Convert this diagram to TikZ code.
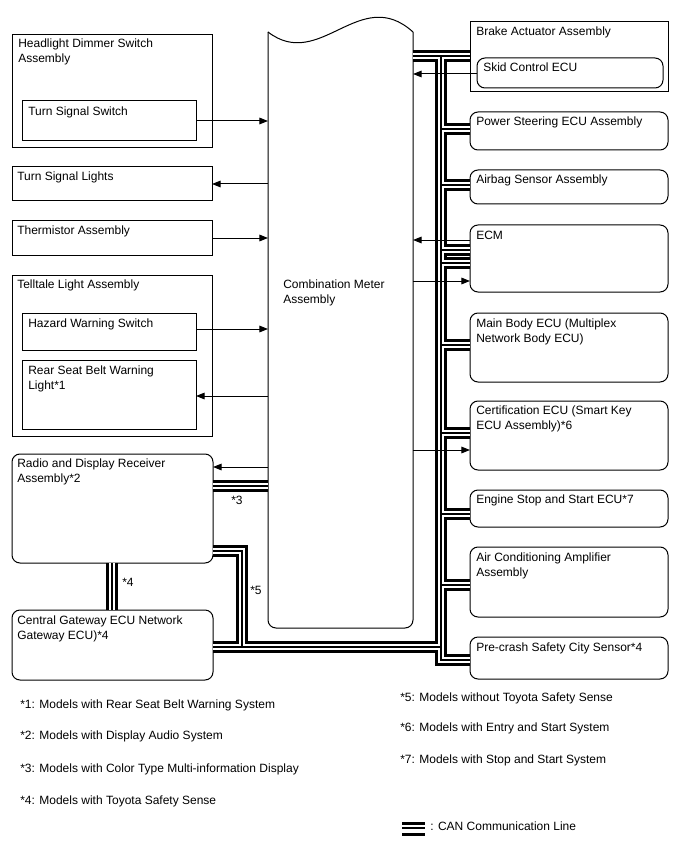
\documentclass[tikz,border=0pt]{standalone}
\usepackage{fontspec}
\setmainfont{Liberation Sans}
\usetikzlibrary{arrows.meta}
\newcommand\mkbox[6]{%
  \node[#6, minimum width={(#4-#2)*0.75pt}, minimum height={(#5-#3)*0.75pt}, anchor=north west] (#1) at (#2,#3) {};}
\newcommand\canroutes[1]{%
  \draw[#1] (meter.east |- topcan) -- (brake.west |- topcan);
  \draw[#1] (topcan) -- (busend);
  \foreach \b/\yy in {ps/129,air/185,ecm/250,ecm/263,mb/345,cert/433,ess/514,ac/585}{%
    \draw[#1] (441,\yy) -- (\b.west |- 441,\yy);}
  \draw[#1] (gw.east |- busend) -- (busend) -- (441,660) -- (pc.west |- 441,660);
  \draw[#1] (radio.east |- 242,551) -- (242,551) -- (242,647);
  \draw[#1] (radio.east |- 242,486) -- (meter.west |- 242,486);
  \draw[#1] (radio.south -| 112,0) -- (gw.north -| 112,0);
}
\begin{document}
\begin{tikzpicture}[x=0.75pt,y=-0.75pt,
  sq/.style={draw,line width=0.75pt,inner sep=0pt,outer sep=0pt},
  rd/.style={sq,rounded corners=6pt},
  ghost/.style={inner sep=0pt,outer sep=0pt},
  lbl/.style={anchor=north west,inner sep=0pt,align=left,font=\fontsize{9}{11.25}\selectfont},
  arr/.style={line width=0.75pt,-{Triangle[length=6.5pt,width=5pt]}},
  canA/.style={line width=8.8pt,black},
  canB/.style={line width=5.1pt,white},
  canC/.style={line width=1.1pt,black}]
\useasboundingbox[fill=white] (0,0) rectangle (688,852);
% combination meter
\mkbox{meter}{268}{32}{413}{628}{ghost}
\draw[line width=0.75pt,rounded corners=6pt] (413,32) -- (413,628) -- (268,628) -- (268,32);
\draw[line width=0.75pt] (268,32) .. controls (320,72) and (360,-16) .. (413,32);
\node[lbl] at (283,279.5) {Combination Meter\\Assembly};
% left boxes
\mkbox{hd}{12}{35}{212}{148}{sq}
\mkbox{tss}{22}{101}{196}{141}{sq}
\mkbox{tsl}{12}{167}{212}{201}{sq}
\mkbox{therm}{12}{221}{212}{255}{sq}
\mkbox{tell}{12}{275}{212}{436}{sq}
\mkbox{haz}{22}{313}{196}{350}{sq}
\mkbox{rsb}{22}{360}{196}{429}{sq}
\mkbox{radio}{12}{454}{213}{563}{rd}
\mkbox{gw}{12}{610}{213}{680}{rd}
\node[lbl] at (18,38.5) {Headlight Dimmer Switch\\Assembly};
\node[lbl] at (28,106.5) {Turn Signal Switch};
\node[lbl] at (17,171.5) {Turn Signal Lights};
\node[lbl] at (17,225.5) {Thermistor Assembly};
\node[lbl] at (17,279.5) {Telltale Light Assembly};
\node[lbl] at (28,318.5) {Hazard Warning Switch};
\node[lbl] at (28,365.5) {Rear Seat Belt Warning\\Light*1};
\node[lbl] at (17,458.5) {Radio and Display Receiver\\Assembly*2};
\node[lbl] at (17,615.5) {Central Gateway ECU Network\\Gateway ECU)*4};
% right boxes
\mkbox{brake}{470}{22}{668}{92}{sq}
\mkbox{skid}{477}{58}{663}{88}{rd}
\mkbox{ps}{470}{112}{668}{150}{rd}
\mkbox{air}{470}{170}{668}{204}{rd}
\mkbox{ecm}{470}{225}{668}{292}{rd}
\mkbox{mb}{470}{313}{668}{382}{rd}
\mkbox{cert}{470}{401}{668}{470}{rd}
\mkbox{ess}{470}{490}{668}{527}{rd}
\mkbox{ac}{470}{547}{668}{617}{rd}
\mkbox{pc}{470}{637}{668}{679}{rd}
\node[lbl] at (476,26.5) {Brake Actuator Assembly};
\node[lbl] at (483,62.5) {Skid Control ECU};
\node[lbl] at (476,116.5) {Power Steering ECU Assembly};
\node[lbl] at (476,174.5) {Airbag Sensor Assembly};
\node[lbl] at (476,230.5) {ECM};
\node[lbl] at (476,318.5) {Main Body ECU (Multiplex\\Network Body ECU)};
\node[lbl] at (476,405.5) {Certification ECU (Smart Key\\ECU Assembly)*6};
\node[lbl] at (476,494.5) {Engine Stop and Start ECU*7};
\node[lbl] at (476,552.5) {Air Conditioning Amplifier\\Assembly};
\node[lbl] at (476,642.5) {Pre-crash Safety City Sensor*4};
% CAN lines
\coordinate (topcan) at (441,56);
\coordinate (busend) at (441,647);
\canroutes{canA}
\canroutes{canB}
\canroutes{canC}
\node[lbl] at (231,495.5) {*3};
\node[lbl] at (122,577.5) {*4};
\node[lbl] at (250,585.5) {*5};
% arrows
\draw[arr] (tss.east |- 0,121) -- (meter.west |- 0,121);
\draw[arr] (meter.west |- 0,184) -- (tsl.east |- 0,184);
\draw[arr] (therm.east |- 0,238) -- (meter.west |- 0,238);
\draw[arr] (haz.east |- 0,329) -- (meter.west |- 0,329);
\draw[arr] (meter.west |- 0,396) -- (rsb.east |- 0,396);
\draw[arr] (meter.west |- 0,467) -- (radio.east |- 0,467);
\draw[arr] (skid.west |- 0,74) -- (meter.east |- 0,74);
\draw[arr] (ecm.west |- 0,240) -- (meter.east |- 0,240);
\draw[arr] (meter.east |- 0,281) -- (ecm.west |- 0,281);
\draw[arr] (meter.east |- 0,450) -- (cert.west |- 0,450);
% notes
\node[lbl] at (20,699.5) {*1: Models with Rear Seat Belt Warning System};
\node[lbl] at (20,730.5) {*2: Models with Display Audio System};
\node[lbl] at (20,763.5) {*3: Models with Color Type Multi-information Display};
\node[lbl] at (20,795.5) {*4: Models with Toyota Safety Sense};
\node[lbl] at (400,692.5) {*5: Models without Toyota Safety Sense};
\node[lbl] at (400,722.5) {*6: Models with Entry and Start System};
\node[lbl] at (400,754.5) {*7: Models with Stop and Start System};
\coordinate (lg1) at (402,823.5);
\coordinate (lg2) at (425,823.5);
\draw[line width=1.6pt] (lg1) -- (lg2);
\draw[line width=1.3pt] ([yshift=-4.7*0.75pt]lg1) -- ([yshift=-4.7*0.75pt]lg2);
\draw[line width=2pt] ([yshift=-11*0.75pt]lg1) -- ([yshift=-11*0.75pt]lg2);
\node[lbl] at (430,822) {: CAN Communication Line};
\end{tikzpicture}
\end{document}
